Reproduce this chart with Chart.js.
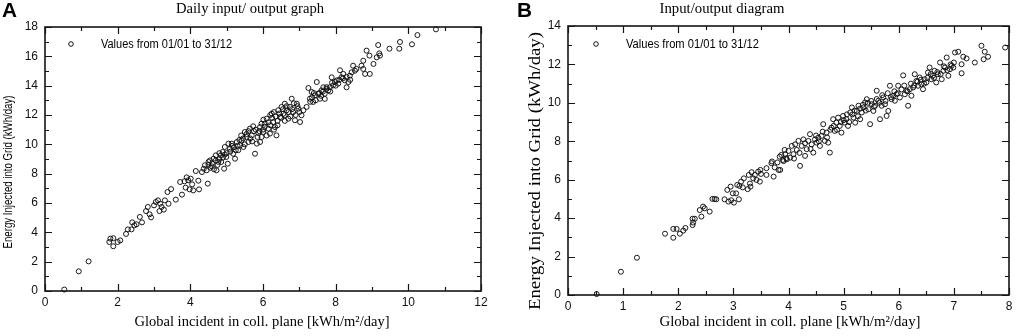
<!DOCTYPE html>
<html><head><meta charset="utf-8">
<script src="https://cdn.jsdelivr.net/npm/chart.js@4"></script>
<style>
html,body{margin:0;padding:0;background:#fff;}
#wrap{position:relative;width:1017px;height:336px;overflow:hidden;}
.pane{position:absolute;top:0;}
</style></head>
<body><div id="wrap">
<div class="pane" style="left:0;width:505px;height:336px"><canvas id="cA" width="505" height="336"></canvas></div>
<div class="pane" style="left:505px;width:512px;height:336px"><canvas id="cB" width="512" height="336"></canvas></div>
</div>
<script>
// ---- Panel A data (Global incident kWh/m²/day, Energy kWh/day) ----
const panelAPoints = [
[0.53,0.1],[0.93,1.34],[1.2,2.02],[1.77,3.34],[1.8,3.57],[1.88,3.05],[1.88,3.6],[2.0,3.34],[2.07,3.45],[2.23,3.89],
[2.28,4.2],[2.38,4.2],[2.4,4.68],[2.46,4.48],[2.52,4.55],[2.61,5.05],[2.67,4.68],[2.78,5.45],[2.83,5.73],[2.88,5.23],
[2.92,5.02],[3.0,5.84],[3.05,6.07],[3.11,6.18],[3.15,5.45],[3.21,5.73],[3.17,5.95],[3.27,5.55],[3.3,6.18],[3.37,6.75],
[3.4,5.95],[3.47,6.95],[3.6,6.23],[3.72,7.43],[3.77,6.57],[3.84,7.48],[3.87,7.05],[3.9,7.75],[3.94,7.55],[3.98,6.93],
[4.01,7.66],[4.05,7.27],[4.08,6.86],[4.15,8.18],[4.22,7.52],[4.24,6.93],[4.32,8.11],[4.37,8.34],[4.4,8.57],[4.45,8.23],
[4.48,7.32],[4.5,8.8],[4.54,8.9],[4.59,8.5],[4.64,9.02],[4.7,9.25],[4.72,8.23],[4.77,8.8],[4.84,9.25],[4.89,9.48],
[4.93,8.34],[4.95,9.82],[4.99,9.14],[5.03,8.68],[5.05,10.05],[5.09,9.7],[5.14,10.05],[5.18,9.36],[5.23,9.02],[5.28,10.16],
[5.32,9.6],[5.37,9.93],[5.41,10.27],[5.46,9.82],[5.5,10.84],[5.55,10.5],[5.6,10.16],[5.64,11.07],[5.69,10.61],[5.73,11.23],
[5.78,9.36],[5.83,10.05],[5.87,10.77],[5.92,11.18],[5.96,11.41],[6.01,11.68],
[5.92,10.16],[5.96,10.5],[6.01,10.84],[6.05,11.41],[6.1,11.75],[6.15,11.07],[6.19,10.73],[6.24,12.09],[6.28,11.52],[6.33,11.18],
[6.37,10.61],[6.42,12.32],[6.47,11.86],[6.51,12.55],[6.56,12.09],[6.6,12.77],[6.65,12.32],[6.7,11.75],[6.74,12.55],[6.79,13.11],
[6.83,12.2],[6.88,11.64],[6.93,12.77],[6.97,12.43],[7.02,11.52],[7.06,11.98],[7.11,12.32],[7.2,12.55],[7.25,13.84],[7.29,13.11],
[7.34,13.57],[7.38,12.89],[7.43,13.34],[7.48,14.25],[7.52,13.45],[7.57,13.11],[7.61,13.68],[7.66,13.89],[7.7,13.45],[7.75,13.79],
[7.8,13.68],[7.84,13.89],[7.89,14.57],[7.93,14.02],[7.98,14.25],[8.03,14.36],[8.07,14.14],[8.12,15.05],[8.16,14.57],[8.21,14.8],
[8.25,14.36],[8.3,13.89],[8.35,14.25],[8.39,14.68],[8.44,14.91],[8.48,15.36],[8.53,15.02],[8.57,15.14],[8.71,15.36],[8.76,15.7],
[8.81,14.8],[8.85,16.39],[8.93,16.05],[8.94,14.8],[8.76,15.14],[9.04,15.48],[9.13,15.93],[9.17,16.77],[9.2,16.2],[9.22,16.05],
[9.48,16.52],[9.77,16.98],[9.75,16.52],[10.1,16.82],[10.25,17.45],[10.76,17.84],
[4.5,8.6],[4.55,8.4],[4.6,8.7],[4.65,8.3],[4.7,8.9],[4.75,8.6],[4.8,9.0],[4.85,8.8],[4.9,9.1],[5.0,9.4],
[5.1,9.5],[5.2,9.8],[5.3,9.9],[5.35,10.3],[5.45,10.4],[5.5,10.0],[5.55,10.7],[5.6,10.9],[5.65,10.4],[5.7,10.2],
[5.75,10.9],[5.8,11.0],[5.85,10.5],[5.9,10.9],[6.0,11.0],[6.05,11.2],[6.1,10.6],[6.15,11.5],[6.2,11.3],[6.25,11.8],
[6.3,11.0],[6.35,11.9],[6.4,11.6],[6.45,12.1],[6.5,11.8],[6.55,12.4],[6.6,12.0],[6.65,12.6],[6.7,12.2],[6.75,11.9],
[6.8,12.4],[6.85,12.8],[6.9,12.0],[6.95,12.6],[7.0,12.2],[7.3,12.9],[7.35,13.2],[7.4,13.5],[7.45,13.0],[7.55,13.5],
[7.6,13.3],[7.65,13.6],[7.7,13.1],[7.75,13.9],[7.85,13.6],[7.9,14.2],[8.0,14.0],[8.1,14.4],[8.2,14.5],[8.3,14.6],
[8.4,14.4],[5.4,10.6],[5.25,9.6],[5.15,9.9],[4.95,9.3],[4.8,9.4],[6.2,12.0],[6.3,12.2],[6.4,11.3],[6.6,11.6]
];
// ---- Panel B data ----
const panelBPoints = [
[0.52,0.05],[0.96,1.21],[1.25,1.94],[1.76,3.19],[1.91,2.98],[1.91,3.44],[1.97,3.44],[2.03,3.19],[2.09,3.35],[2.13,3.49],
[2.26,3.64],[2.26,3.97],[2.3,3.97],[2.27,3.77],[2.39,4.42],[2.42,4.08],[2.45,4.6],[2.48,4.51],[2.57,4.34],[2.62,5.0],
[2.66,5.0],[2.69,4.98],[2.84,4.98],[2.89,5.47],[2.91,4.86],[2.95,5.64],[2.96,4.93],[2.99,5.29],[3.01,4.81],[3.05,5.29],
[3.07,5.73],[3.1,4.98],[3.11,5.68],[3.14,5.9],[3.17,5.6],[3.19,6.07],[3.26,5.51],[3.28,6.25],[3.31,5.64],[3.33,6.39],
[3.36,6.07],[3.39,6.25],[3.42,5.99],[3.45,6.42],[3.48,5.9],[3.49,6.51],[3.6,6.25],[3.69,6.86],[3.7,6.95],[3.73,6.16],
[3.75,6.64],[3.82,6.51],[3.84,7.2],[3.87,7.29],[3.9,7.03],[3.93,7.55],[3.96,7.12],
[3.85,6.51],[3.91,6.97],[3.94,7.33],[3.97,7.06],[4.0,7.5],[4.03,7.15],[4.06,7.76],[4.09,7.33],[4.12,7.84],[4.15,7.55],
[4.18,8.02],[4.21,6.72],[4.24,7.76],[4.27,8.1],[4.3,7.24],[4.33,7.59],[4.36,8.02],[4.39,8.37],[4.42,7.84],[4.45,7.41],
[4.48,8.1],[4.51,7.93],[4.54,8.19],[4.57,7.76],[4.6,8.28],[4.63,8.89],[4.66,8.02],[4.69,8.45],[4.72,7.93],[4.75,7.41],
[4.78,8.71],[4.81,9.15],[4.84,8.54],[4.87,8.97],[4.9,9.23],[4.93,8.8],[4.96,8.45],[4.99,9.32],[5.02,8.97],[5.05,9.15],
[5.08,8.8],[5.12,9.5],[5.15,9.76],[5.18,9.23],[5.21,8.97],[5.24,9.58],[5.27,9.85],[5.3,9.15],[5.33,9.5],[5.36,9.76],
[5.39,10.02],[5.42,10.19],[5.45,9.67],[5.48,8.89],[5.51,9.93],[5.54,9.58],[5.57,9.85],[5.6,10.63],[5.63,10.11],[5.66,9.15],
[5.69,9.85],[5.72,10.28],[5.75,9.93],[5.78,9.32],[5.81,9.58],[5.84,10.89],[5.87,10.19],[5.9,10.37],[5.93,10.11],[5.96,10.45],
[5.99,10.89],[6.02,10.28],[6.08,11.43],[6.11,10.45],[6.14,10.63],[6.17,9.85],[6.2,10.71],[6.23,10.37],[6.26,10.8],[6.29,11.49],
[6.32,11.14],[6.35,10.89],[6.38,11.32],[6.41,10.97],[6.44,10.71],[6.47,11.23],[6.5,11.06],[6.53,11.58],[6.56,11.84],[6.59,11.23],
[6.62,11.41],[6.65,11.67],[6.68,11.06],[6.71,11.49],[6.75,12.1],[6.78,11.23],[6.81,11.67],[6.84,11.84],[6.87,12.36],[6.9,11.41],
[6.93,11.75],[6.96,11.93],[6.99,11.84],[7.02,12.62],[7.08,12.66],[7.14,12.01],[7.14,11.54],[7.17,12.4],[7.23,12.31],[7.38,12.1],
[7.5,12.97],[7.56,12.66],[7.54,12.27],[7.62,12.4],[7.93,12.88],
[4.5,8.3],[4.55,8.0],[4.62,8.5],[4.7,8.2],[4.76,8.6],[4.82,8.8],[4.88,8.6],[4.95,9.0],[5.0,9.1],[5.06,9.4],
[5.1,9.0],[5.16,9.4],[5.2,9.6],[5.26,9.3],[5.3,9.7],[5.35,9.9],[5.4,9.6],[5.44,10.0],[5.5,10.1],[5.55,9.8],
[5.6,10.2],[5.65,10.0],[5.7,10.4],[5.76,10.1],[5.8,10.5],[5.86,10.3],[5.92,10.6],[5.98,10.5],[6.05,10.7],[6.1,10.9],
[6.16,10.6],[6.22,11.0],[6.28,10.9],[6.34,11.1],[6.4,11.2],[6.46,11.0],[6.52,11.3],[6.58,11.5],[6.64,11.3],[6.7,11.6],
[6.76,11.5],[6.82,11.9],[6.88,11.7],[6.94,12.0],[7.0,12.1],[4.2,7.4],[4.3,7.9],[4.4,7.6],[4.1,7.1],[3.8,6.9],
[3.6,6.6],[3.5,6.3],[3.3,5.8]
];
const titlesA = {panel:'A', title:'Daily input/ output graph', x:'Global incident in coll. plane [kWh/m²/day]', y:'Energy Injected into Grid (kWh/day)', legend:'Values from 01/01 to 31/12'};
const titlesB = {panel:'B', title:'Input/output diagram', x:'Global incident in coll. plane [kWh/m²/day]', y:'Energy Injected into Grid (kWh/day)', legend:'Values from 01/01 to 31/12'};
const axesA = {xMax:12, xMajor:2, xMinor:1, yMax:18, yMajor:2, yMinor:1};
const axesB = {xMax:8, xMajor:1, xMinor:0.5, yMax:14, yMajor:2, yMinor:1};

const SANS = '"Liberation Sans", Arial, sans-serif';
const SERIF = '"Liberation Serif", "Times New Roman", serif';
const INK = '#151515';

function fitFont(ctx, text, weight, family, target){
  ctx.font = weight + ' 20px ' + family;
  const w = ctx.measureText(text).width;
  const size = 20 * target / w;
  ctx.font = weight + ' ' + size.toFixed(2) + 'px ' + family;
}
// draw text at a fixed font size, squeezed horizontally to a target width
function squeezeText(ctx, text, font, target, x, y){
  ctx.font = font;
  const w = ctx.measureText(text).width;
  ctx.save(); ctx.translate(x, y); ctx.scale(target / w, 1);
  ctx.fillText(text, 0, 0); ctx.restore();
}

function framePlugin(L){
  return {
    id:'frame'+L.t.panel,
    afterDraw(chart){
      const ctx = chart.ctx, a = chart.chartArea, xs = chart.scales.x, ys = chart.scales.y, ax = L.axes;
      ctx.save();
      ctx.strokeStyle = INK; ctx.lineWidth = 1.6;
      ctx.strokeRect(a.left, a.top, a.right-a.left, a.bottom-a.top);
      ctx.lineWidth = 1.2;
      ctx.beginPath();
      for (let v=0; v<=ax.xMax+1e-9; v+=ax.xMinor){
        const major = Math.abs(v/ax.xMajor - Math.round(v/ax.xMajor))<1e-6;
        const len = major?7:4, px = Math.round(xs.getPixelForValue(v))+0.5;
        ctx.moveTo(px,a.bottom); ctx.lineTo(px,a.bottom-len);
        ctx.moveTo(px,a.top); ctx.lineTo(px,a.top+len);
      }
      for (let v=0; v<=ax.yMax+1e-9; v+=ax.yMinor){
        const major = Math.abs(v/ax.yMajor - Math.round(v/ax.yMajor))<1e-6;
        const len = major?7:4, py = Math.round(ys.getPixelForValue(v))+0.5;
        ctx.moveTo(a.left,py); ctx.lineTo(a.left+len,py);
        ctx.moveTo(a.right,py); ctx.lineTo(a.right-len,py);
      }
      ctx.stroke();
      ctx.fillStyle = '#000';
      // panel letter
      fitFont(ctx, L.t.panel, 'bold', SANS, L.letterW);
      ctx.textAlign='left'; ctx.textBaseline='alphabetic';
      ctx.fillText(L.t.panel, L.letterX, 17);
      // title
      ctx.textAlign='center';
      squeezeText(ctx, L.t.title, 'normal 14px ' + SERIF, L.titleW, L.titleX, 13);
      // x title
      squeezeText(ctx, L.t.x, 'normal 15px ' + SERIF, L.xTitleW, L.xTitleX, 326);
      // y title
      ctx.save();
      ctx.translate(L.yTitleX, L.yTitleY); ctx.rotate(-Math.PI/2);
      ctx.textAlign='center'; ctx.textBaseline='middle';
      squeezeText(ctx, L.t.y, 'normal ' + L.yFont, L.yTitleW, 0, 0);
      ctx.restore();
      // legend
      ctx.beginPath(); ctx.lineWidth=1; ctx.strokeStyle=INK;
      ctx.arc(L.legX, 44, 2.3, 0, Math.PI*2); ctx.stroke();
      ctx.textAlign='left'; ctx.textBaseline='middle';
      squeezeText(ctx, L.t.legend, 'normal 12px ' + SANS, L.legW, L.legTextX, 44.5);
      ctx.restore();
    }
  };
}

function makeChart(id, pts, axes, t, lay){
  const data = pts.map(p=>({x:p[0], y:p[1]}));
  return new Chart(document.getElementById(id), {
    type:'scatter',
    data:{datasets:[{data, pointStyle:'circle', pointRadius:2.5, pointBorderWidth:1,
      pointBorderColor:'rgba(15,15,15,0.95)', pointBackgroundColor:'rgba(255,255,255,0)', clip:false}]},
    options:{
      responsive:false, animation:false, devicePixelRatio:1,
      layout:{padding:{top:lay.top, right:lay.right, left:0, bottom:0}},
      plugins:{legend:{display:false}, tooltip:{enabled:false}},
      scales:{
        x:{type:'linear', min:0, max:axes.xMax,
          ticks:{stepSize:axes.xMajor, padding:4, color:'#111', font:{family:SANS, size:12}, maxRotation:0},
          grid:{display:false, drawTicks:false}, border:{display:false},
          afterFit(s){ s.height = lay.xH; }},
        y:{type:'linear', min:0, max:axes.yMax,
          ticks:{stepSize:axes.yMajor, padding:7, color:'#111', font:{family:SANS, size:12}},
          grid:{display:false, drawTicks:false}, border:{display:false},
          afterFit(s){ s.width = lay.yW; }}
      }
    },
    plugins:[framePlugin(lay.L)]
  });
}

makeChart('cA', panelAPoints, axesA, titlesA, {top:27, right:24, xH:45, yW:45,
  L:{t:titlesA, axes:axesA, letterX:2, letterW:15, titleX:250, titleW:148, xTitleX:262, xTitleW:255,
     yTitleX:8, yTitleY:172, yTitleW:153, yFont:'13px ' + SANS, legX:71, legTextX:101, legW:131}});
makeChart('cB', panelBPoints, axesB, titlesB, {top:26, right:8, xH:41, yW:63,
  L:{t:titlesB, axes:axesB, letterX:12, letterW:15, titleX:217, titleW:125, xTitleX:285, xTitleW:261,
     yTitleX:31, yTitleY:171, yTitleW:278, yFont:'16px ' + SERIF, legX:91, legTextX:121, legW:133}});
</script>
</body></html>
